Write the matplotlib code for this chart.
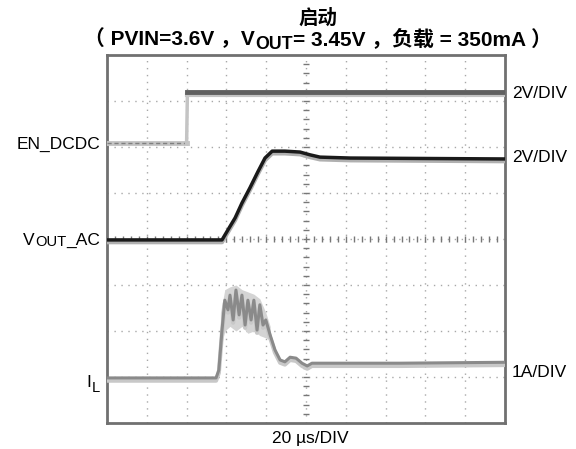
import numpy as np
import matplotlib
matplotlib.use("Agg")
import matplotlib.pyplot as plt

plt.rcParams['font.family'] = ['Liberation Sans', 'Noto Sans CJK SC', 'DejaVu Sans']

W, H = 576, 449

# traces, in scope divisions (x: 0..10, y: 0..8)
en_low_x = [0.0, 2.0]
en_low_y = [6.08, 6.08]
en_edge_x = [2.0, 2.02]
en_edge_y = [6.08, 7.15]
en_high_x = [2.02, 10.0]
en_high_y = [7.2, 7.2]

vout_x = [0.0, 2.89, 3.04, 3.22, 3.39, 3.59, 3.79, 3.97, 4.15, 4.47, 4.85, 5.10, 5.35, 6.11, 10.0]
vout_y = [3.98, 3.98, 4.20, 4.46, 4.78, 5.11, 5.46, 5.76, 5.91, 5.91, 5.89, 5.83, 5.78, 5.76, 5.74]

il_x = [0.0, 2.74, 2.81, 2.89, 2.96, 3.04, 3.09, 3.17, 3.24, 3.32, 3.39, 3.47, 3.54,
        3.62, 3.69, 3.77, 3.84, 3.92, 3.99, 4.10, 4.22, 4.35, 4.47, 4.60, 4.75,
        4.90, 5.03, 5.15, 5.35, 7.36, 10.0]
il_y = [0.98, 0.98, 1.15, 2.02, 2.67, 2.46, 2.78, 2.24, 2.89, 2.35, 2.78, 2.13, 2.67,
        2.24, 2.67, 2.02, 2.57, 2.13, 2.24, 1.91, 1.59, 1.37, 1.33, 1.43, 1.41,
        1.30, 1.24, 1.30, 1.30, 1.30, 1.32]
# light envelope of the switching noise
il_env_x = [2.85, 2.96, 3.09, 3.24, 3.39, 3.54, 3.69, 3.84, 3.99, 4.10]
il_env_lo = [1.6, 2.0, 2.1, 2.0, 2.1, 1.95, 2.0, 1.9, 1.85, 1.8]
il_env_hi = [2.4, 2.9, 2.96, 3.0, 2.9, 2.85, 2.8, 2.7, 2.4, 2.1]

fig = plt.figure(figsize=(W / 100, H / 100), dpi=100)
ax = fig.add_axes([107 / W, 1 - 423 / H, 398 / W, 368 / H])
ax.set_xlim(0, 10)
ax.set_ylim(0, 8)
ax.set_xticks([])
ax.set_yticks([])
for s in ax.spines.values():
    s.set_color('#707070')
    s.set_linewidth(2)

# graticule
for gx in range(1, 10):
    ax.axvline(gx, color='#a8a8a8', lw=1, ls=(0, (1, 4)), zorder=1)
for gy in range(1, 8):
    ax.axhline(gy, color='#a8a8a8', lw=1, ls=(0, (1, 4)), zorder=1)
tx = np.arange(0.2, 10, 0.2)
ty = np.arange(0.2, 8, 0.2)
ax.plot(tx, np.full_like(tx, 4), ls='none', marker='|', ms=4, color='#777777', zorder=1)
ax.plot(np.full_like(ty, 5), ty, ls='none', marker='_', ms=4, color='#777777', zorder=1)

# EN_DCDC
ax.plot(en_low_x, en_low_y, color='#c4c4c4', lw=3.5, zorder=3)
ax.plot(en_low_x, en_low_y, color='#808080', lw=1, ls=(0, (3, 2)), zorder=3)
ax.plot(en_edge_x, en_edge_y, color='#c4c4c4', lw=2.5, zorder=3)
ax.plot(en_high_x, [v - 0.07 for v in en_high_y], color='#c4c4c4', lw=3, zorder=3)
ax.plot(en_high_x, en_high_y, color='#606060', lw=3.5, zorder=3)

# VOUT
ax.plot(vout_x, [v - 0.05 for v in vout_y], color='#b0b0b0', lw=3, zorder=4)
ax.plot(vout_x, vout_y, color='#1a1a1a', lw=2.5, zorder=4)

# IL
ax.fill_between(il_env_x, il_env_lo, il_env_hi, color='#d4d4d4', lw=0, zorder=2)
ax.plot(il_x, [v - 0.06 for v in il_y], color='#c8c8c8', lw=3, zorder=3)
ax.plot(il_x, il_y, color='#8a8a8a', lw=2.2, zorder=3)

renderer = fig.canvas.get_renderer()


def rich(x, y, parts, ha='left', size=12, weight='normal'):
    # parts: (text, size scale, baseline drop in px)
    objs = []
    for txt, sc, dy in parts:
        t = fig.text(0, 0, txt, fontsize=size * sc, fontweight=weight, va='baseline')
        objs.append((t, t.get_window_extent(renderer).width, dy))
    total = sum(w for _, w, _ in objs)
    if ha == 'center':
        x0 = x - total / 2
    elif ha == 'right':
        x0 = x - total
    else:
        x0 = x
    for t, w, dy in objs:
        t.set_position((x0 / W, 1 - (y + dy) / H))
        x0 += w


rich(318, 24, [('启动', 1, 0)], ha='center', size=14, weight='bold')
rich(318, 45, [('（ PVIN=3.6V ，V', 1, 0), ('OUT', 0.85, 4),
               ('= 3.45V ，负载 = 350mA ）', 1, 0)], ha='center', size=15, weight='bold')

rich(100, 149, [('EN_DCDC', 1, 0)], ha='right', size=12.5)
rich(100, 245, [('V', 1, 0), ('OUT', 0.85, 1.5), ('_AC', 1, 0)], ha='right', size=12.5)
rich(100, 387, [('I', 1, 0), ('L', 0.85, 5)], ha='right', size=12.5)

rich(512, 98, [('2V/DIV', 1, 0)], size=12.5)
rich(512, 162, [('2V/DIV', 1, 0)], size=12.5)
rich(512, 377, [('1A/DIV', 1, 0)], size=12.5)
rich(310, 443, [('20 µs/DIV', 1, 0)], ha='center', size=12.5)

fig.savefig('out.png', dpi=100)
